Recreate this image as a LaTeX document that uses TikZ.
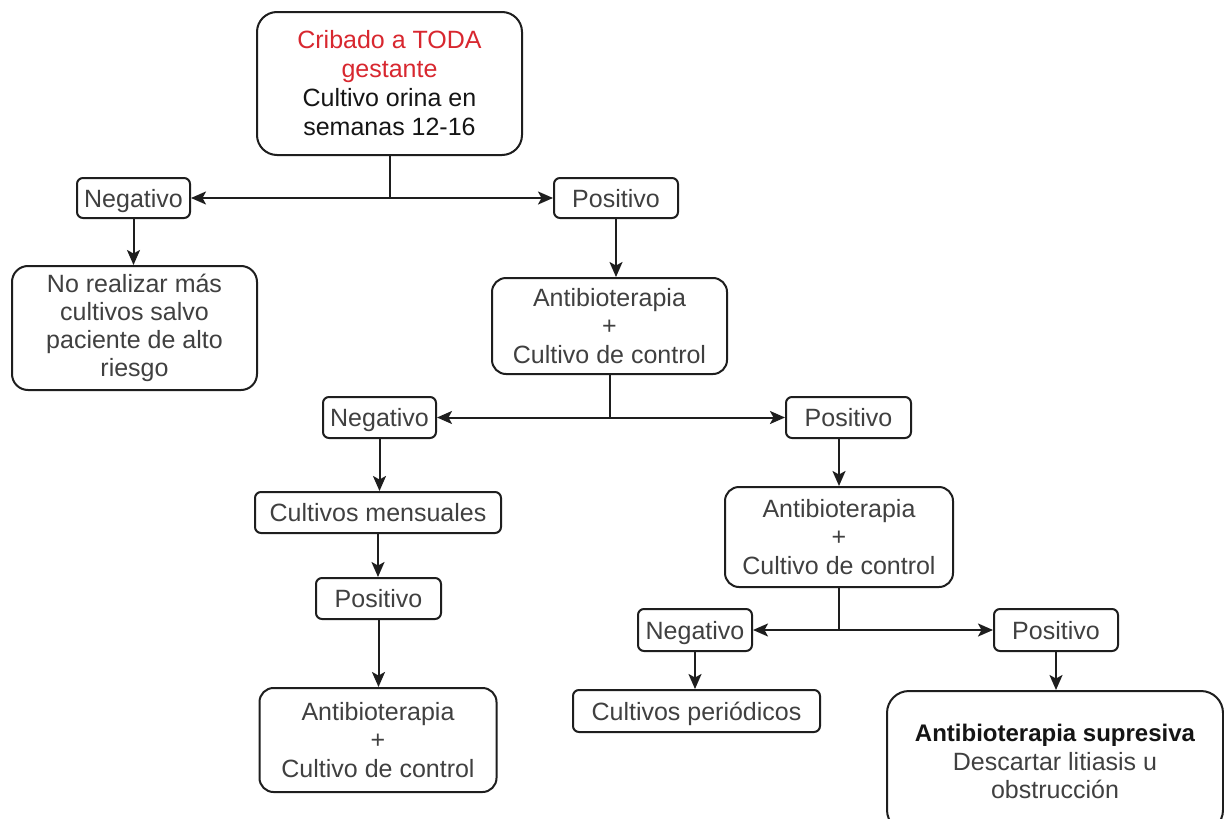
\documentclass[tikz,border=0pt]{standalone}
\usepackage{fontspec}
\setmainfont{Liberation Sans}
\usetikzlibrary{arrows.meta}
\definecolor{linec}{HTML}{1E1E1E}
\definecolor{txtc}{HTML}{404040}
\definecolor{darktxt}{HTML}{151515}
\definecolor{redtxt}{HTML}{D8272F}
\tikzset{
  flowbox/.style={draw=linec, line width=2pt, fill=white, text=txtc,
    font=\fontsize{25}{28.5}\selectfont, align=center, inner sep=0pt},
  smallbox/.style={flowbox, rounded corners=6pt, text height=23pt, text depth=5pt},
  bigbox/.style={flowbox, rounded corners=14pt},
  conn/.style={draw=linec, line width=2pt},
  arr/.style={conn, -{Stealth[length=15pt,width=13pt,inset=3.5pt]}}
}
\begin{document}
\begin{tikzpicture}[x=1pt,y=-1pt]
\useasboundingbox (0,0) rectangle (1224,819);
\clip (0,0) rectangle (1224,819);
\fill[white] (0,0) rectangle (1224,819);

% top
\node[flowbox, rounded corners=20pt, minimum width=265pt, minimum height=143pt, text=darktxt,
      font=\fontsize{25}{29}\selectfont] (top) at (389.5,83.5)
  {{\color{redtxt}Cribado a TODA}\\{\color{redtxt}gestante}\\Cultivo orina en\\semanas 12-16};

% level 1
\node[smallbox, minimum width=113pt, minimum height=40pt] (neg1) at (133.5,198) {Negativo};
\node[smallbox, minimum width=124pt, minimum height=40pt] (pos1) at (616,198) {Positivo};
\node[flowbox, rounded corners=16pt, minimum width=245pt, minimum height=124pt,
      font=\fontsize{25}{28}\selectfont] (noreal) at (134.5,328)
  {No realizar más\\cultivos salvo\\paciente de alto\\riesgo};
\node[bigbox, minimum width=235pt, minimum height=96pt] (ab1) at (609.5,326)
  {Antibioterapia\\+\\Cultivo de control};

% level 2
\node[smallbox, minimum width=113pt, minimum height=41pt] (neg2) at (379.5,417.5) {Negativo};
\node[smallbox, minimum width=125pt, minimum height=41pt] (pos2) at (848.5,417.5) {Positivo};
\node[smallbox, minimum width=246pt, minimum height=41pt] (cm) at (378,512.5) {Cultivos mensuales};
\node[smallbox, minimum width=125pt, minimum height=41pt] (pos3) at (378.5,598.5) {Positivo};
\node[bigbox, minimum width=237pt, minimum height=104pt] (ab3) at (378,740)
  {Antibioterapia\\+\\Cultivo de control};
\node[bigbox, minimum width=228pt, minimum height=100pt] (ab2) at (839,537)
  {Antibioterapia\\+\\Cultivo de control};

% level 3
\node[smallbox, minimum width=114pt, minimum height=42pt] (neg4) at (695,630) {Negativo};
\node[smallbox, minimum width=124pt, minimum height=42pt] (pos4) at (1056,630) {Positivo};
\node[smallbox, minimum width=247pt, minimum height=42pt] (cp) at (696.5,711) {Cultivos periódicos};
\node[flowbox, rounded corners=22pt, minimum width=336pt, minimum height=141pt, text=darktxt] (fin) at (1055,761.5)
  {\fontsize{24}{28.5}\selectfont\bfseries Antibioterapia supresiva\\{\color{txtc}Descartar litiasis u}\\{\color{txtc}obstrucción}};

% connectors
\coordinate (j1) at (top.south |- neg1.east);
\draw[conn] (top.south) -- (j1);
\draw[arr] (j1) -- (neg1.east);
\draw[arr] (j1) -- (pos1.west);
\draw[arr] (neg1.south) -- (neg1.south |- noreal.north);
\draw[arr] (pos1.south) -- (pos1.south |- ab1.north);

\coordinate (j2) at (ab1.south |- neg2.east);
\draw[conn] (ab1.south) -- (j2);
\draw[arr] (j2) -- (neg2.east);
\draw[arr] (j2) -- (pos2.west);
\draw[arr] (neg2.south) -- (neg2.south |- cm.north);
\draw[arr] (cm.south) -- (cm.south |- pos3.north);
\draw[arr] (pos3.south) -- (pos3.south |- ab3.north);
\draw[arr] (ab2.north |- pos2.south) -- (ab2.north);

\coordinate (j3) at (ab2.south |- neg4.east);
\draw[conn] (ab2.south) -- (j3);
\draw[arr] (j3) -- (neg4.east);
\draw[arr] (j3) -- (pos4.west);
\draw[arr] (neg4.south) -- (neg4.south |- cp.north);
\draw[arr] (pos4.south) -- (pos4.south |- fin.north);
\end{tikzpicture}
\end{document}
